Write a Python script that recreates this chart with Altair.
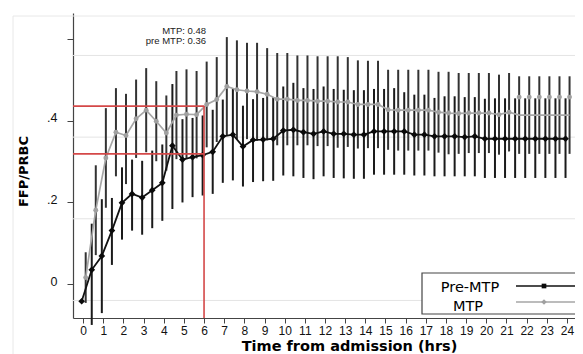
import altair as alt
import pandas as pd

# ---------------- data ----------------
times = [0, 0.5, 1, 1.5, 2, 2.5, 3, 3.5, 4, 4.5, 5, 5.5, 6, 6.5, 7, 7.5, 8, 8.5, 9, 9.5,
         10, 10.5, 11, 11.5, 12, 12.5, 13, 13.5, 14, 14.5, 15, 15.5, 16, 16.5, 17, 17.5,
         18, 18.5, 19, 19.5, 20, 20.5, 21, 21.5, 22, 22.5, 23, 23.5, 24]

pre_mean = [-0.042, 0.035, 0.069, 0.131, 0.199, 0.221, 0.212, 0.230, 0.248, 0.339,
            0.305, 0.311, 0.316, 0.324, 0.362, 0.366, 0.337, 0.353, 0.354, 0.356,
            0.376, 0.378, 0.372, 0.368, 0.374, 0.368, 0.368, 0.366, 0.366, 0.374,
            0.374, 0.374, 0.374, 0.366, 0.366, 0.362, 0.362, 0.362, 0.360, 0.362,
            0.356, 0.356, 0.356, 0.356, 0.356, 0.356, 0.356, 0.356, 0.356]
pre_lo = [-0.042, -0.100, -0.071, 0.047, 0.109, 0.131, 0.121, 0.137, 0.155, 0.184,
          0.200, 0.213, 0.217, 0.221, 0.248, 0.254, 0.239, 0.250, 0.252, 0.253,
          0.266, 0.264, 0.260, 0.257, 0.264, 0.260, 0.259, 0.258, 0.258, 0.268,
          0.268, 0.268, 0.268, 0.266, 0.266, 0.264, 0.264, 0.264, 0.264, 0.264,
          0.260, 0.260, 0.260, 0.260, 0.260, 0.260, 0.260, 0.260, 0.260]
pre_hi = [-0.042, 0.148, 0.208, 0.211, 0.286, 0.305, 0.302, 0.327, 0.342, 0.490,
          0.404, 0.407, 0.413, 0.427, 0.452, 0.478, 0.437, 0.453, 0.456, 0.458,
          0.484, 0.493, 0.480, 0.478, 0.484, 0.478, 0.476, 0.475, 0.475, 0.478,
          0.478, 0.480, 0.470, 0.464, 0.464, 0.456, 0.460, 0.460, 0.458, 0.458,
          0.454, 0.455, 0.455, 0.455, 0.455, 0.455, 0.455, 0.455, 0.455]

mtp_mean = [0.016, 0.181, 0.309, 0.372, 0.364, 0.405, 0.426, 0.399, 0.370, 0.414,
            0.416, 0.415, 0.440, 0.452, 0.484, 0.476, 0.473, 0.471, 0.465, 0.453,
            0.453, 0.450, 0.450, 0.448, 0.448, 0.446, 0.446, 0.440, 0.440, 0.440,
            0.427, 0.426, 0.426, 0.426, 0.426, 0.421, 0.419, 0.418, 0.419, 0.419,
            0.419, 0.415, 0.421, 0.414, 0.414, 0.414, 0.414, 0.414, 0.414]
mtp_marker = [0.016, 0.181, 0.309, 0.372, 0.364, 0.405, 0.426, 0.399, 0.370, 0.414,
              0.416, 0.415, 0.440, 0.452, 0.484, 0.476, 0.473, 0.471, 0.465, 0.453,
              0.453, 0.450, 0.450, 0.448, 0.448, 0.446, 0.446, 0.440, 0.440, 0.440,
              0.427, 0.426, 0.426, 0.426, 0.426, 0.421, 0.419, 0.418, 0.419, 0.419,
              0.419, 0.415, 0.421, 0.458, 0.458, 0.458, 0.458, 0.458, 0.458]
mtp_lo = [-0.046, 0.071, 0.187, 0.264, 0.245, 0.309, 0.323, 0.301, 0.278, 0.306,
          0.306, 0.308, 0.335, 0.348, 0.363, 0.355, 0.355, 0.351, 0.352, 0.340,
          0.340, 0.340, 0.340, 0.338, 0.338, 0.334, 0.336, 0.332, 0.333, 0.333,
          0.329, 0.327, 0.327, 0.327, 0.327, 0.322, 0.318, 0.319, 0.321, 0.321,
          0.321, 0.317, 0.325, 0.319, 0.319, 0.319, 0.319, 0.319, 0.319]
mtp_hi = [0.078, 0.291, 0.431, 0.480, 0.466, 0.501, 0.529, 0.497, 0.462, 0.522,
          0.526, 0.522, 0.545, 0.556, 0.605, 0.597, 0.591, 0.591, 0.578, 0.566,
          0.566, 0.560, 0.560, 0.558, 0.558, 0.558, 0.556, 0.548, 0.547, 0.547,
          0.525, 0.525, 0.525, 0.525, 0.525, 0.520, 0.520, 0.517, 0.517, 0.517,
          0.517, 0.513, 0.517, 0.509, 0.509, 0.509, 0.509, 0.509, 0.509]

x_ticks = list(range(0, 25))
y_ticks = [0, 0.2, 0.4, 0.6]
grid_y = [-0.04, 0.16, 0.36, 0.56]

ref_hour = 6
ref_mtp = 0.436
ref_pre = 0.319
annot_lines = ["MTP: 0.48", "pre MTP: 0.36"]
legend_labels = ["Pre-MTP", "MTP"]

# ---------------- frames ----------------
X_OFF_PRE = -0.07
X_OFF_MTP = 0.13
XMIN, XMAX = -0.5, 24.4
YMIN, YMAX = -0.083, 0.664

pre = pd.DataFrame({"t": times, "mean": pre_mean, "lo": pre_lo, "hi": pre_hi})
pre["x"] = pre["t"] + X_OFF_PRE
mtp = pd.DataFrame({"t": times, "mean": mtp_mean, "mark": mtp_marker,
                    "lo": mtp_lo, "hi": mtp_hi})
mtp["x"] = mtp["t"] + X_OFF_MTP
grid = pd.DataFrame({"y": grid_y})
red_h = pd.DataFrame({"x0": [XMIN, XMIN], "x1": [ref_hour, ref_hour], "y": [ref_mtp, ref_pre]})
red_v = pd.DataFrame({"x": [ref_hour], "y0": [YMIN], "y1": [ref_mtp]})
one = pd.DataFrame({"a": [0]})

xscale = alt.Scale(domain=[XMIN, XMAX], nice=False, zero=False)
yscale = alt.Scale(domain=[YMIN, YMAX], nice=False, zero=False)

AX = "#444444"
NUMFONT = "Liberation Sans Narrow, Liberation Sans, Arial, sans-serif"

xaxis = alt.Axis(values=x_ticks, format="d", title="Time from admission (hrs)",
                 labelFont=NUMFONT, labelFontSize=12, labelColor="#111111",
                 labelPadding=2, labelOverlap=False, labelFlush=False,
                 tickSize=5, tickColor=AX, domainColor=AX, domainWidth=1.2,
                 tickWidth=1, grid=False,
                 titleFont="DejaVu Sans", titleFontSize=14.5, titleFontWeight="bold",
                 titleColor="#000000", titleX=276, titleY=32, titleAlign="center",
                 titleBaseline="alphabetic")
yaxis = alt.Axis(values=y_ticks,
                 labelExpr="datum.value == 0 ? '0' : (datum.value > 0.5 ? '' : '.' + format(datum.value * 10, '.0f'))",
                 labelFont=NUMFONT, labelFontSize=12.5, labelColor="#111111",
                 labelPadding=10, labelOffset=-3,
                 tickSize=6, tickColor=AX, domainColor=AX, domainWidth=1.2, grid=False,
                 title="FFP/PRBC", titleFont="DejaVu Sans", titleFontSize=13,
                 titleFontWeight="bold", titleColor="#000000", titleX=-50, titleY=158,
                 titleAngle=270, titleAlign="center", titleBaseline="middle")


def X(field):
    return alt.X(field, type="quantitative", scale=xscale, axis=xaxis)


def Y(field):
    return alt.Y(field, type="quantitative", scale=yscale, axis=yaxis)


gridlines = alt.Chart(grid).mark_rule(color="#e4e4e4", strokeWidth=1).encode(
    y=Y("y"), x=alt.value(0), x2=alt.value(510))

frame_top = alt.Chart(one).mark_rule(color="#e8e8e8", strokeWidth=1).encode(
    x=alt.value(-60), x2=alt.value(510), y=alt.value(3))
frame_left = alt.Chart(one).mark_rule(color="#e8e8e8", strokeWidth=1).encode(
    x=alt.value(-60), y=alt.value(3), y2=alt.value(345))

mtp_bars = alt.Chart(mtp).mark_rule(color="#333333", strokeWidth=2).encode(
    x=X("x"), y=Y("lo"), y2="hi")
pre_bars = alt.Chart(pre).mark_rule(color="#1a1a1a", strokeWidth=2).encode(
    x=X("x"), y=Y("lo"), y2="hi")

mtp_line = alt.Chart(mtp).mark_line(color="#a6a6a6", strokeWidth=1.7).encode(
    x=X("x"), y=Y("mean"))
mtp_pts = alt.Chart(mtp).mark_point(shape="circle", filled=True, opacity=1,
                                    color="#a0a0a0", size=24).encode(
    x=X("x"), y=Y("mark"))
pre_line = alt.Chart(pre).mark_line(color="#111111", strokeWidth=1.8).encode(
    x=X("x"), y=Y("mean"))
pre_pts = alt.Chart(pre).mark_point(shape="diamond", filled=True, opacity=1,
                                    color="#0a0a0a", size=45).encode(
    x=X("x"), y=Y("mean"))

RED = "#d44848"
red_hl = alt.Chart(red_h).mark_rule(color=RED, strokeWidth=1.6).encode(
    x=X("x0"), x2="x1", y=Y("y"))
red_vl = alt.Chart(red_v).mark_rule(color=RED, strokeWidth=1.6).encode(
    x=X("x"), y=Y("y0"), y2="y1")

ann1 = alt.Chart(one).mark_text(text=annot_lines[0], align="right", baseline="middle",
                                font="Liberation Sans, Arial, sans-serif", fontSize=9.5,
                                color="#222222").encode(x=alt.value(133), y=alt.value(18))
ann2 = alt.Chart(one).mark_text(text=annot_lines[1], align="right", baseline="middle",
                                font="Liberation Sans, Arial, sans-serif", fontSize=9.5,
                                color="#222222").encode(x=alt.value(133), y=alt.value(28))

leg_box = alt.Chart(one).mark_rect(fill="white", stroke="#444444", strokeWidth=1.2).encode(
    x=alt.value(349), x2=alt.value(540), y=alt.value(260), y2=alt.value(301))
leg_t1 = alt.Chart(one).mark_text(text=legend_labels[0], align="center", baseline="middle",
                                  font="DejaVu Sans", fontSize=14.5, color="#000000").encode(
    x=alt.value(397), y=alt.value(275))
leg_t2 = alt.Chart(one).mark_text(text=legend_labels[1], align="center", baseline="middle",
                                  font="DejaVu Sans", fontSize=14.5, color="#000000").encode(
    x=alt.value(395), y=alt.value(294))
leg_l1 = alt.Chart(one).mark_rule(color="#111111", strokeWidth=1.6).encode(
    x=alt.value(443), x2=alt.value(540), y=alt.value(273))
leg_l2 = alt.Chart(one).mark_rule(color="#a6a6a6", strokeWidth=1.6).encode(
    x=alt.value(443), x2=alt.value(540), y=alt.value(289))
leg_p1 = alt.Chart(one).mark_point(shape="square", filled=True, opacity=1,
                                   color="#0a0a0a", size=22).encode(
    x=alt.value(471), y=alt.value(273))
leg_p2 = alt.Chart(one).mark_point(shape="diamond", filled=True, opacity=1,
                                   color="#a0a0a0", size=30).encode(
    x=alt.value(471), y=alt.value(289))

chart = alt.layer(
    gridlines, frame_top, frame_left,
    mtp_bars, pre_bars,
    mtp_line, mtp_pts, pre_line, pre_pts,
    red_hl, red_vl,
    ann1, ann2,
    leg_box, leg_t1, leg_t2, leg_l1, leg_l2, leg_p1, leg_p2,
).properties(
    width=502, height=305,
    padding={"left": 65, "top": 5, "right": 0, "bottom": 36},
    autosize=alt.AutoSizeParams(type="none"),
    background="white",
).configure_view(stroke=None)

chart.save("out.html", embed_options={"renderer": "svg", "actions": False})
